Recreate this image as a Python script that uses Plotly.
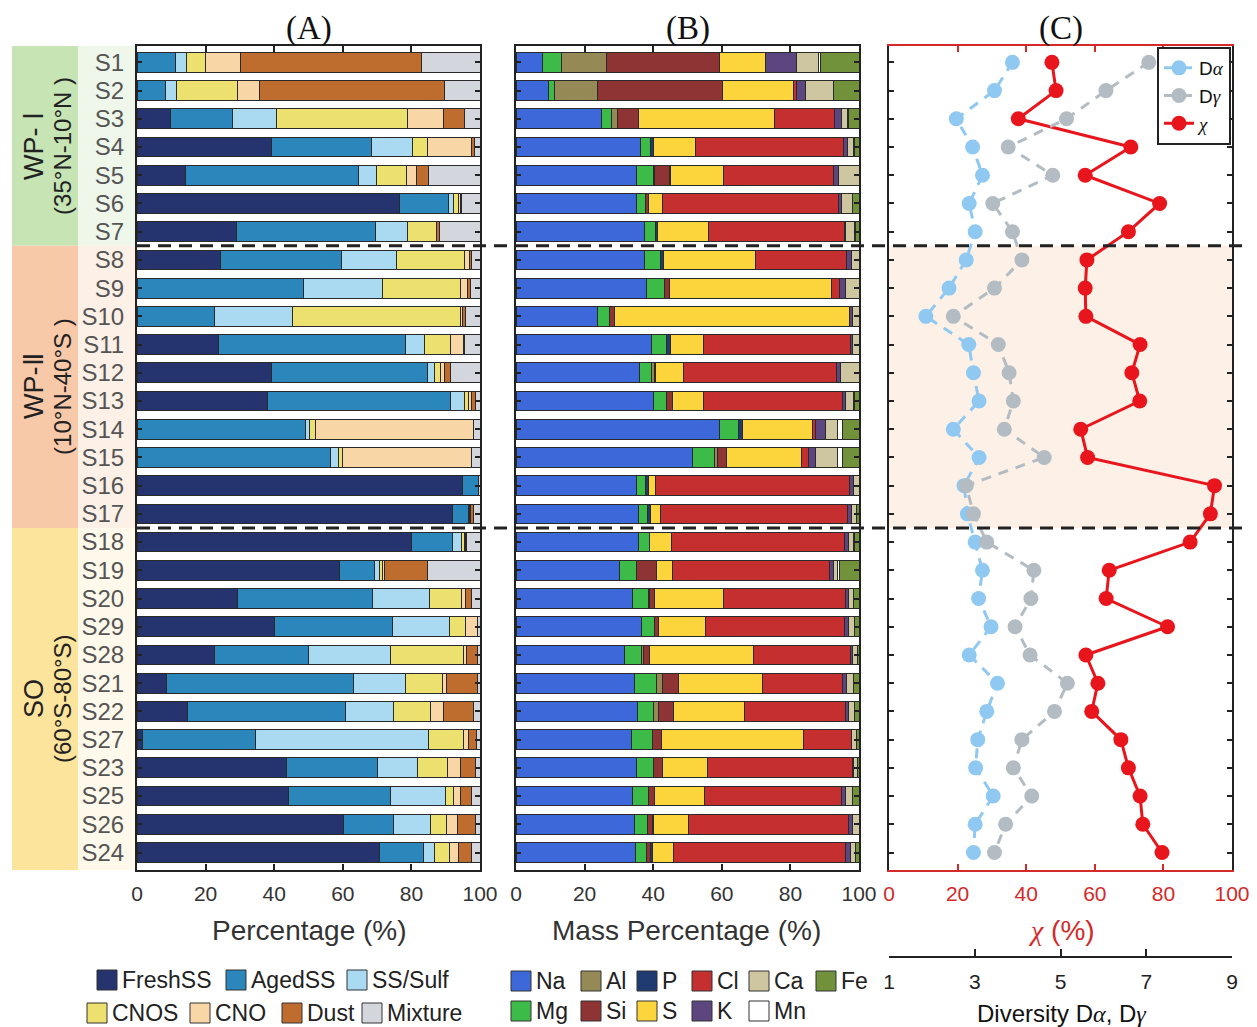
import plotly.graph_objects as go

W, H = 1257, 1027

# ---------------- data ----------------
samples = ["S1", "S2", "S3", "S4", "S5", "S6", "S7", "S8", "S9", "S10",
           "S11", "S12", "S13", "S14", "S15", "S16", "S17", "S18", "S19", "S20",
           "S29", "S28", "S21", "S22", "S27", "S23", "S25", "S26", "S24"]

group_names = ["WP- Ⅰ", "WP-Ⅱ", "SO"]
group_ranges = ["(35°N-10°N )", "(10°N-40°S )", "(60°S-80°S)"]
group_sizes = [7, 10, 12]

# Panel A: particle types (%)
particle_types = ["FreshSS", "AgedSS", "SS/Sulf", "CNOS", "CNO", "Dust", "Mixture"]
fresh_ss = [0, 0, 9.7, 39.2, 14.0, 76.6, 28.9, 24.2, 0, 0, 23.9, 39.2, 38.0, 0, 0, 94.8, 92.0, 80.0, 58.9, 29.2,
            40.1, 22.6, 8.5, 14.8, 1.7, 43.7, 44.3, 60.1, 70.6]
aged_ss = [11.1, 8.2, 18.2, 29.3, 50.7, 14.1, 40.6, 35.3, 48.5, 22.6, 54.5, 45.6, 53.5, 49.2, 56.5, 4.7, 4.6, 12.0, 10.4, 39.4,
           34.4, 27.3, 54.5, 46.0, 32.8, 26.4, 29.6, 14.6, 13.0]
ss_sulf = [3.2, 3.3, 12.8, 11.7, 5.1, 1.5, 9.3, 16.3, 23.1, 22.7, 5.4, 1.8, 4.0, 1.0, 2.3, 0, 0.3, 2.7, 1.5, 16.6,
           16.7, 23.9, 15.4, 13.9, 50.4, 11.6, 15.9, 10.9, 3.0]
cnos = [5.8, 17.9, 38.1, 4.4, 8.7, 1.5, 8.4, 19.8, 22.6, 49.1, 7.5, 1.8, 1.2, 1.8, 1.0, 0, 0.4, 0.8, 0.8, 9.4,
        4.7, 21.4, 10.7, 10.9, 10.2, 8.9, 2.6, 4.7, 4.6]
cno = [10.0, 6.4, 10.5, 13.0, 3.0, 0.5, 0.2, 1.3, 2.1, 0.6, 3.9, 1.2, 0.7, 46.1, 37.6, 0, 0, 0.3, 0.5, 1.2,
       3.3, 0.8, 1.2, 3.7, 1.5, 3.8, 1.9, 3.1, 2.6]
dust = [52.8, 53.8, 6.3, 0.7, 3.6, 0.5, 0.8, 0.7, 0.8, 0.7, 0.3, 1.8, 1.3, 0, 0, 0, 0.9, 0.3, 12.6, 1.8,
        0, 3.3, 9.0, 8.8, 2.4, 4.2, 3.2, 5.2, 3.7]
mixture = [17.1, 10.4, 4.4, 1.7, 14.9, 5.3, 11.8, 2.4, 2.9, 4.3, 4.5, 8.6, 1.3, 1.9, 2.6, 0.5, 1.8, 3.9, 15.3, 2.4,
           0.8, 0.7, 0.7, 1.9, 1.0, 1.4, 2.5, 1.4, 2.5]

# Panel B: elemental mass percentage (%)
elements = ["Na", "Mg", "Al", "Si", "P", "S", "Cl", "K", "Ca", "Mn", "Fe"]
na = [7.6, 9.5, 25.0, 36.2, 35.0, 35.0, 37.4, 37.5, 37.9, 23.8, 39.6, 36.0, 40.1, 59.3, 51.5, 35.0, 35.7, 35.7, 30.2, 34.0,
      36.7, 31.7, 34.6, 35.4, 33.8, 35.2, 34.1, 34.5, 34.8]
mg = [5.8, 1.7, 2.9, 3.1, 5.2, 2.7, 3.2, 4.6, 5.4, 3.5, 4.4, 3.6, 3.9, 5.7, 6.4, 2.8, 2.7, 3.2, 4.8, 4.5,
      3.6, 4.9, 6.5, 4.7, 6.1, 5.0, 4.6, 3.7, 3.2]
al = [13.1, 12.5, 1.6, 0, 0.3, 0, 0, 0, 0, 0, 0, 0.7, 0, 0, 0.9, 0, 0, 0, 0, 0.3,
      0, 0.7, 1.5, 1.3, 0, 0, 0, 0, 0]
si = [32.8, 36.4, 6.3, 0, 4.3, 0.9, 0, 0, 1.5, 1.5, 0, 0, 1.5, 0, 2.7, 0, 0, 0, 5.9, 1.7,
      1.1, 1.6, 4.7, 4.4, 2.6, 2.5, 1.7, 1.5, 1.2]
p = [0, 0, 0, 0.9, 0.3, 0, 0.7, 0.8, 0, 0, 1.0, 0.5, 0, 1.0, 0, 0.8, 0.7, 0, 0, 0,
     0, 0, 0, 0, 0, 0, 0, 0.5, 0.5]
s = [13.4, 20.8, 39.6, 12.0, 15.5, 4.1, 14.7, 26.9, 47.3, 68.3, 9.7, 7.9, 9.2, 20.4, 21.8, 2.2, 3.0, 6.3, 4.8, 19.9,
     13.8, 30.2, 24.5, 20.9, 41.3, 13.1, 14.6, 10.2, 6.1]
cl = [0, 0.9, 17.5, 43.4, 32.1, 51.3, 39.7, 26.5, 2.2, 0, 42.7, 44.8, 40.5, 0.8, 1.9, 56.5, 54.6, 50.5, 45.7, 35.6,
      40.6, 28.3, 23.5, 29.3, 14.1, 42.3, 39.8, 46.4, 50.4]
k = [9.1, 2.7, 1.9, 1.1, 1.2, 1.0, 0.5, 1.5, 1.7, 1.1, 0.8, 1.2, 0.8, 2.9, 2.1, 1.2, 1.2, 1.2, 1.2, 0.8,
     1.2, 0.7, 1.0, 0.8, 0, 0.3, 1.2, 1.2, 1.3]
ca = [6.3, 8.2, 1.9, 1.6, 6.1, 3.2, 2.4, 2.2, 4.0, 1.8, 1.8, 5.3, 2.5, 3.6, 6.3, 1.5, 1.4, 1.4, 1.2, 1.5,
      1.8, 1.4, 2.2, 1.9, 1.4, 1.2, 2.1, 2.0, 1.5]
mn = [0.8, 0, 0.3, 0.3, 0, 0, 0.3, 0, 0, 0, 0, 0, 0.3, 1.5, 1.5, 0, 0, 0.3, 0.5, 0,
      0, 0, 0, 0, 0, 0, 0, 0, 0]
fe = [11.1, 7.3, 3.0, 1.4, 0, 1.8, 1.1, 0, 0, 0, 0, 0, 1.2, 4.8, 4.9, 0, 0.7, 1.4, 5.7, 1.7,
      1.2, 0.5, 1.5, 1.3, 0.7, 0.4, 1.9, 0, 1.0]

# Panel C
chi_pct = [47.5, 48.7, 37.7, 70.5, 57.2, 78.9, 69.8, 57.7, 57.2, 57.4, 73.2, 70.8, 73.1, 55.9, 57.9, 94.9, 93.7, 87.8, 64.2, 63.3,
           81.2, 57.4, 60.9, 59.1, 67.6, 69.8, 73.2, 74.0, 79.6]
d_alpha = [3.88, 3.46, 2.57, 2.95, 3.18, 2.87, 3.01, 2.80, 2.40, 1.86, 2.86, 2.97, 3.10, 2.50, 3.10, 2.75, 2.83, 3.01, 3.18, 3.09,
           3.38, 2.87, 3.53, 3.28, 3.07, 3.02, 3.43, 3.01, 2.97]
d_gamma = [7.06, 6.06, 5.14, 3.78, 4.82, 3.42, 3.88, 4.10, 3.46, 2.50, 3.55, 3.80, 3.90, 3.69, 4.62, 2.80, 2.97, 3.28, 4.38, 4.31,
           3.94, 4.29, 5.16, 4.86, 4.10, 3.90, 4.33, 3.72, 3.46]

pct_ticks = [0, 20, 40, 60, 80, 100]
div_ticks = [1, 3, 5, 7, 9]

# ---------------- styles ----------------
A_values = [fresh_ss, aged_ss, ss_sulf, cnos, cno, dust, mixture]
A_colors = ["#25336e", "#2b86bb", "#aadaf1", "#ece06f", "#f9d6a5", "#bf6d2e", "#d4d6de"]
B_values = [na, mg, al, si, p, s, cl, k, ca, mn, fe]
B_colors = ["#3d68d9", "#3dbb48", "#958a56", "#8f3434", "#1f3b72", "#fcd53d", "#c52f2f", "#5d4680", "#cec6a0", "#ffffff", "#71913a"]
C_blue, C_gray, C_red = "#8fc8f1", "#b3bcc2", "#e8151c"
AX_RED = "#d42a2a"
SANS = "Liberation Sans, Arial, sans-serif"
SERIF = "Liberation Serif, Times New Roman, serif"
EDGE = "#2a2a2a"


def px(x):
    return x / W


def py(y):
    return 1 - y / H


plot_top, plot_bot = 46, 870
ydom = [py(plot_bot), py(plot_top)]
dom_A = [px(137), px(480)]
dom_B = [px(516), px(859)]
dom_C = [px(889), px(1232)]
yrange = [28.62, -0.58]

fig = go.Figure()

for name, vals, col in zip(particle_types, A_values, A_colors):
    fig.add_trace(go.Bar(x=vals, y=samples, orientation="h", name=name, xaxis="x", yaxis="y",
                         width=0.7, marker=dict(color=col, line=dict(color=EDGE, width=1)),
                         showlegend=False))
for name, vals, col in zip(elements, B_values, B_colors):
    fig.add_trace(go.Bar(x=vals, y=samples, orientation="h", name=name, xaxis="x2", yaxis="y2",
                         width=0.7, marker=dict(color=col, line=dict(color=EDGE, width=1)),
                         showlegend=False))

alpha_lbl = 'D<span style="font-family:Liberation Serif"><i>α</i></span>'
gamma_lbl = 'D<span style="font-family:Liberation Serif"><i>γ</i></span>'
chi_lbl = '<span style="font-family:Liberation Serif"><i>χ</i></span>'

fig.add_trace(go.Scatter(x=d_alpha, y=samples, xaxis="x4", yaxis="y3", mode="lines+markers", name=alpha_lbl,
                         line=dict(color=C_blue, width=3, dash="10px,8px"),
                         marker=dict(color=C_blue, size=15)))
fig.add_trace(go.Scatter(x=d_gamma, y=samples, xaxis="x4", yaxis="y3", mode="lines+markers", name=gamma_lbl,
                         line=dict(color=C_gray, width=3, dash="10px,8px"),
                         marker=dict(color=C_gray, size=15)))
fig.add_trace(go.Scatter(x=chi_pct, y=samples, xaxis="x3", yaxis="y3", mode="lines+markers", name=chi_lbl,
                         line=dict(color=C_red, width=3),
                         marker=dict(color=C_red, size=15)))

common_x = dict(range=[0, 100], tickvals=pct_ticks, ticks="inside", ticklen=6, tickwidth=1.5,
                showline=True, linewidth=2, mirror="ticks", showgrid=False, zeroline=False,
                ticklabelstandoff=4, fixedrange=True, automargin=False)
common_y = dict(type="category", categoryorder="array", categoryarray=samples, range=yrange,
                tickmode="array", tickvals=samples, ticktext=samples,
                domain=ydom, ticks="inside", ticklen=5, tickwidth=1.5, showline=True, linewidth=2,
                mirror="ticks", showgrid=False, zeroline=False, linecolor="#222", tickcolor="#222",
                automargin=False)

fig.update_layout(
    width=W, height=H, margin=dict(l=0, r=0, t=0, b=0, autoexpand=False),
    paper_bgcolor="white", plot_bgcolor="rgba(0,0,0,0)",
    barmode="stack", bargap=0.3,
    font=dict(family=SANS, color="#333"),
    xaxis=dict(domain=dom_A, anchor="y", linecolor="#222", tickcolor="#222",
               tickfont=dict(size=21, color="#333"), **common_x),
    yaxis=dict(anchor="x", showticklabels=True, tickfont=dict(size=24, color="#555"),
               ticklabelstandoff=6, **common_y),
    xaxis2=dict(domain=dom_B, anchor="y2", linecolor="#222", tickcolor="#222",
                tickfont=dict(size=21, color="#333"), **common_x),
    yaxis2=dict(anchor="x2", showticklabels=False, **common_y),
    xaxis3=dict(domain=dom_C, anchor="y3", linecolor=AX_RED, tickcolor=AX_RED,
                tickfont=dict(size=21, color=AX_RED), **common_x),
    yaxis3=dict(anchor="x3", showticklabels=False, **common_y),
    xaxis4=dict(overlaying="x3", anchor="free", position=py(957), side="bottom", range=[1, 9],
                tickvals=div_ticks, ticks="inside", ticklen=7, tickwidth=1.5, showline=True, linewidth=2,
                linecolor="#222", tickcolor="#222", showgrid=False, zeroline=False, automargin=False,
                tickfont=dict(size=21, color="#222"), ticklabelstandoff=6),
    legend=dict(x=px(1231), xanchor="right", y=py(47), yanchor="top", bgcolor="white",
                bordercolor="#222", borderwidth=2, font=dict(size=19, color="#111", family=SANS),
                tracegroupgap=0, itemwidth=30, traceorder="normal"),
)

shapes = []
annotations = []


def note(x, y, text, size, color="#222", family=SANS, xref="paper", yref="paper",
         xanchor="center", yanchor="middle", angle=0):
    annotations.append(dict(xref=xref, yref=yref, x=x, y=y, text=text, showarrow=False,
                            xanchor=xanchor, yanchor=yanchor, textangle=angle,
                            font=dict(size=size, color=color, family=family)))


# panel C shaded WP-II band
shapes.append(dict(type="rect", xref="x3", yref="y3", x0=0, x1=100, y0=6.5, y1=16.5,
                   fillcolor="#fdf1e7", line=dict(width=0), layer="below"))

# left group boxes
grp_colors = ["#c6e4b4", "#f7c9a9", "#fde49c"]
lbl_colors = ["#eef7ea", "#fdf0e6", "#fef9ea"]
bounds = []
acc = 0
for i, n in enumerate(group_sizes):
    y0 = yrange[1] if i == 0 else acc - 0.5
    acc += n
    y1 = yrange[0] if i == len(group_sizes) - 1 else acc - 0.5
    bounds.append((y0, y1))
    shapes.append(dict(type="rect", xref="paper", yref="y", x0=px(12), x1=px(78), y0=y0, y1=y1,
                       fillcolor=grp_colors[i], line=dict(width=0), layer="below"))
    shapes.append(dict(type="rect", xref="paper", yref="y", x0=px(78), x1=px(137), y0=y0, y1=y1,
                       fillcolor=lbl_colors[i], line=dict(width=0), layer="below"))
    mid = (y0 + y1) / 2
    note(px(34), mid, group_names[i], 27, yref="y", angle=-90)
    note(px(63), mid, group_ranges[i], 24, yref="y", angle=-90)

# dashed separators
for (y0, y1) in bounds[:-1]:
    shapes.append(dict(type="line", xref="paper", yref="y", x0=px(137), x1=px(1246), y0=y1, y1=y1,
                       line=dict(color="#222", width=3, dash="13px,8px"), layer="above"))

# panel titles
for t, dom in zip(["(A)", "(B)", "(C)"], [dom_A, dom_B, dom_C]):
    note((dom[0] + dom[1]) / 2, py(28), t, 33, color="#111", family=SERIF)

# axis titles
note(px(309), py(930), "Percentage (%)", 28, color="#333")
note(px(686), py(930), "Mass Percentage (%)", 28, color="#333")
note(px(1061), py(930), '<span style="font-family:Liberation Serif"><i>χ</i></span> (%)', 28, color=AX_RED)
note(px(1061), py(1013),
     'Diversity D<span style="font-family:Liberation Serif"><i>α</i></span>, D<span style="font-family:Liberation Serif"><i>γ</i></span>',
     24, color="#111")


# manual legends for A and B
def legend_entry(x_left, y_center, color, label):
    shapes.append(dict(type="rect", xref="paper", yref="paper", x0=px(x_left), x1=px(x_left + 20),
                       y0=py(y_center + 10), y1=py(y_center - 10), fillcolor=color,
                       line=dict(color="#333", width=1)))
    note(px(x_left + 23), py(y_center), label, 23, color="#222", xanchor="left")


legA_layout = [([0, 1, 2], [97, 226, 347], 980), ([3, 4, 5, 6], [87, 190, 282, 362], 1013)]
for idxs, xs, yc in legA_layout:
    for i, xl in zip(idxs, xs):
        legend_entry(xl, yc, A_colors[i], particle_types[i])

legB_cols = [511, 581, 637, 692, 749, 816]
legB_layout = [([0, 2, 4, 6, 8, 10], 981), ([1, 3, 5, 7, 9], 1011)]
for idxs, yc in legB_layout:
    for i, xl in zip(idxs, legB_cols):
        legend_entry(xl, yc, B_colors[i], elements[i])

fig.update_layout(shapes=shapes, annotations=annotations)
fig.write_html("out.html")
